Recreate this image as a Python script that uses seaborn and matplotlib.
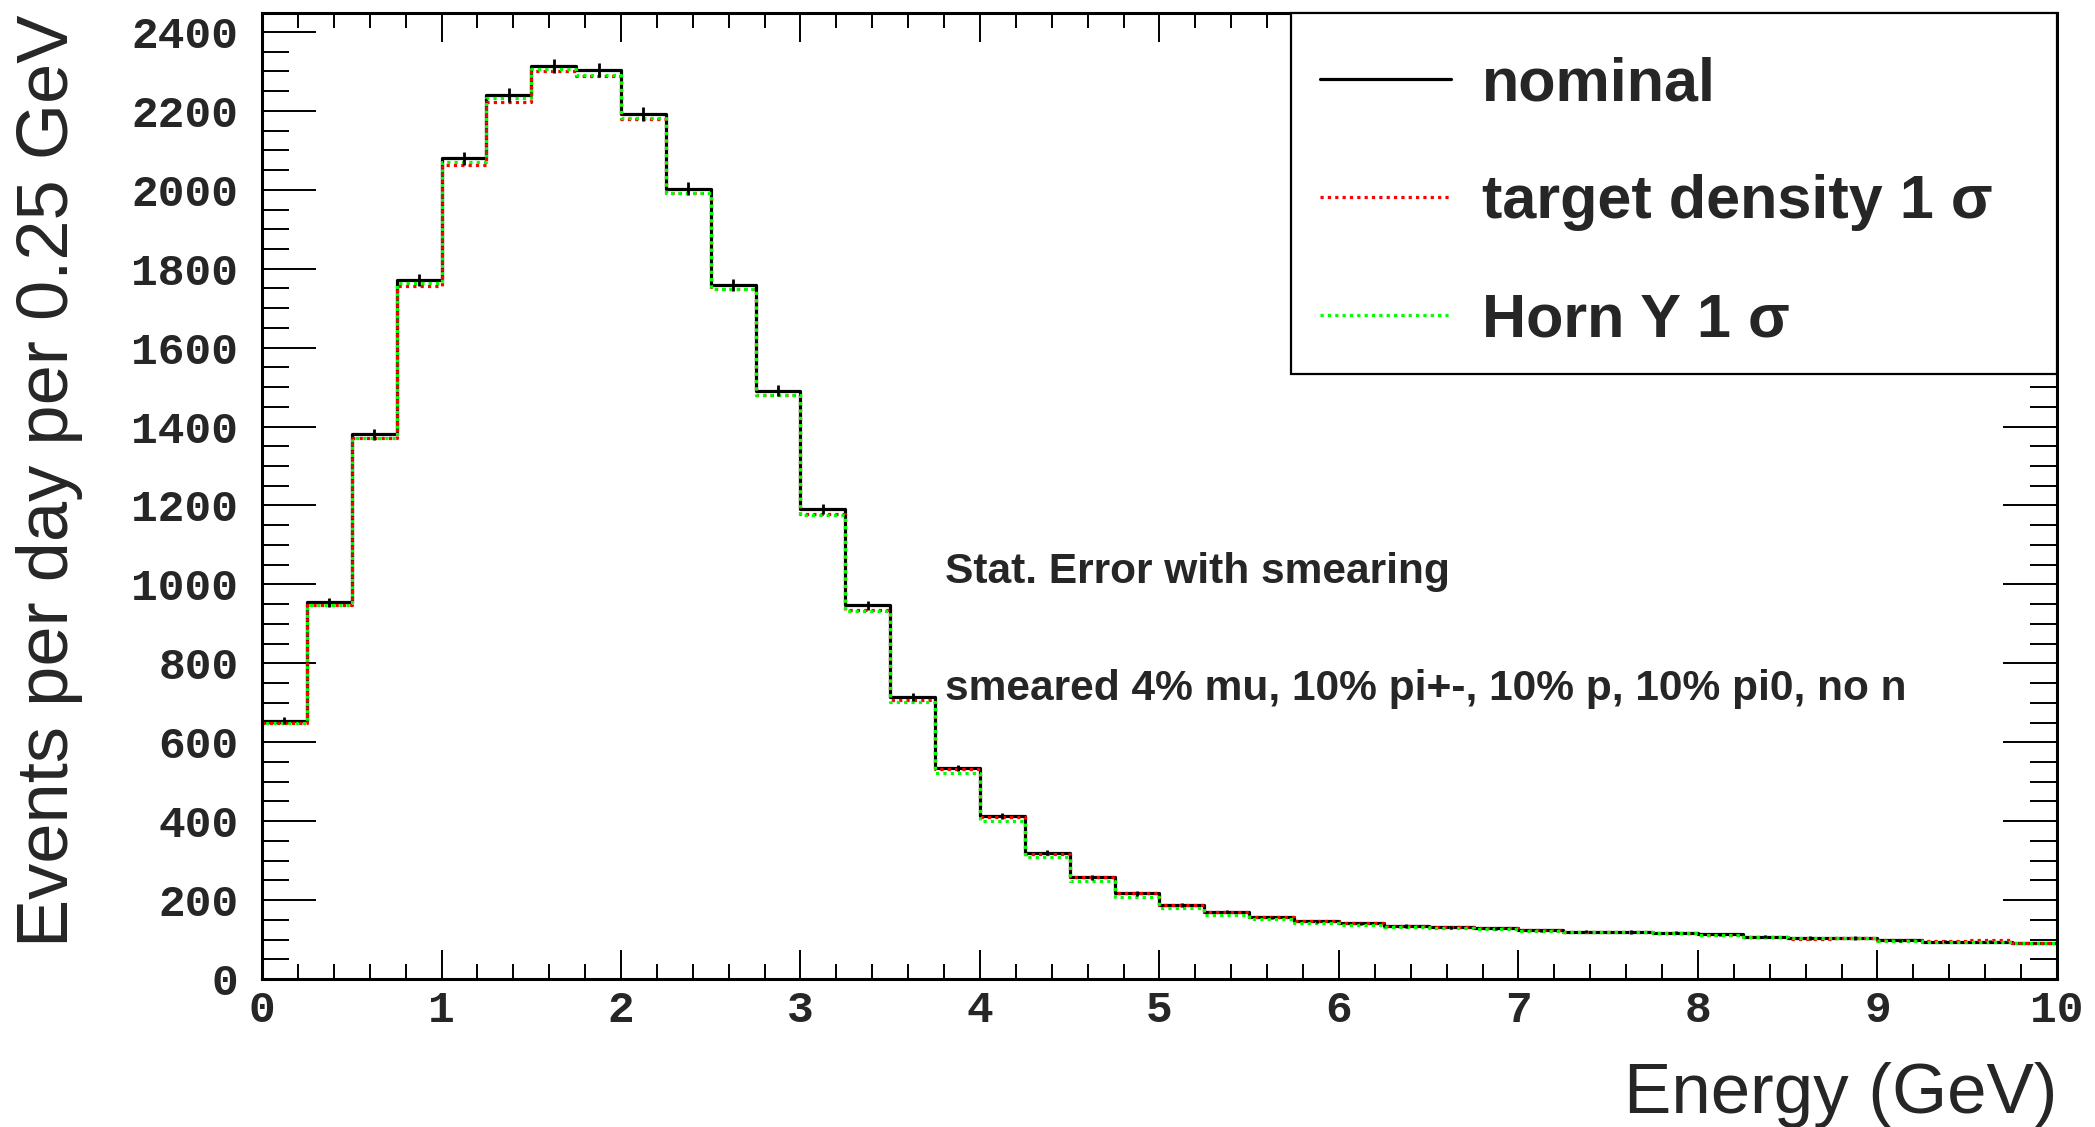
import numpy as np
import pandas as pd
import matplotlib
matplotlib.use("Agg")
import matplotlib.pyplot as plt
import seaborn as sns
from matplotlib.lines import Line2D
from matplotlib.patches import Rectangle
from matplotlib.ticker import MultipleLocator

# ---------------- data ----------------
bin_width = 0.25
n_bins = 40
nominal = [655, 955, 1380, 1772, 2080, 2240, 2313, 2304, 2192, 2003,
           1759, 1491, 1192, 947, 714, 535, 414, 320, 258, 217,
           188, 171, 156, 146, 141, 134, 131, 128, 123, 120,
           119, 117, 113, 107, 104, 104, 98, 95, 95, 91]
target_density = [650, 948, 1372, 1757, 2063, 2223, 2301, 2289, 2179, 1993,
                  1748, 1479, 1178, 935, 707, 532, 411, 317, 258, 217,
                  188, 171, 156, 146, 141, 134, 131, 128, 124, 120,
                  119, 116, 112, 106, 102, 104, 99, 96, 100, 92]
horn_y = [650, 948, 1372, 1764, 2071, 2232, 2305, 2292, 2181, 1993,
          1748, 1479, 1177, 932, 703, 523, 401, 308, 248, 207,
          180, 163, 152, 143, 138, 131, 129, 126, 122, 119,
          118, 116, 112, 107, 103, 103, 97, 94, 94, 90]
nominal_err = [9.5, 11.5, 14, 15.5, 17, 17.5, 18, 18, 17, 16.5,
               15.5, 14, 13, 11.5, 10, 8.5, 7.5, 6.5, 6, 5.5,
               5, 5, 4.5, 4.5, 4.5, 4.5, 4, 4, 4, 4,
               4, 4, 4, 4, 4, 4, 3.5, 3.5, 3.5, 3.5]
x_tick_values = [0, 1, 2, 3, 4, 5, 6, 7, 8, 9, 10]
y_tick_values = [0, 200, 400, 600, 800, 1000, 1200, 1400, 1600, 1800, 2000, 2200, 2400]
series_labels = ["nominal", "target density 1 \u03c3", "Horn Y 1 \u03c3"]
note_lines = ["Stat. Error with smearing",
              "smeared 4% mu, 10% pi+-, 10% p, 10% pi0, no n"]
x_title = "Energy (GeV)"
y_title = "Events per day per 0.25 GeV"

centers = (np.arange(n_bins) + 0.5) * bin_width
df = pd.DataFrame({"energy": centers, "nominal": nominal,
                   "target": target_density, "horn": horn_y})

# ---------------- style ----------------
sns.set_style("ticks")
plt.rcParams["font.family"] = ["Liberation Sans", "DejaVu Sans"]

fig = plt.figure(figsize=(20.95, 11.27), dpi=100)
ax = fig.add_axes([0.12506, 0.13132, 0.85680, 0.85714])

LW = 2.3
hist_kw = dict(data=df, x="energy", binwidth=bin_width,
               binrange=(0, n_bins * bin_width), element="step", fill=False,
               linewidth=LW, ax=ax)
sns.histplot(weights="nominal", color="black", **hist_kw)
sns.histplot(weights="target", color="#ff0000",
             linestyle=(0, (1, 1.3)), **hist_kw)
sns.histplot(weights="horn", color="#00ff00",
             linestyle=(1.15, (1, 1.3)), **hist_kw)
ax.errorbar(centers, nominal, yerr=nominal_err, fmt="none",
            ecolor="black", elinewidth=2.0, capsize=0)

ax.set_xlim(0, 10)
ax.set_ylim(0, 2448)
ax.set_xticks(x_tick_values)
ax.set_yticks(y_tick_values)
ax.xaxis.set_minor_locator(MultipleLocator(0.2))
ax.yaxis.set_minor_locator(MultipleLocator(50))

for s in ax.spines.values():
    s.set_linewidth(2.2)
    s.set_color("black")

ax.tick_params(axis="both", which="both", direction="in", top=True, right=True,
               color="black", width=1.4)
ax.tick_params(axis="y", which="major", length=39, pad=17)
ax.tick_params(axis="y", which="minor", length=19.5)
ax.tick_params(axis="x", which="major", length=21, pad=8)
ax.tick_params(axis="x", which="minor", length=10.5)

for lab in ax.get_xticklabels() + ax.get_yticklabels():
    lab.set_fontfamily("Liberation Mono")
    lab.set_fontweight("bold")
    lab.set_fontsize(32)

ax.set_xlabel(x_title, fontsize=51, ha="right")
ax.xaxis.set_label_coords(1.0, -0.0855)
ax.set_ylabel(y_title, fontsize=52, ha="center")
ax.yaxis.set_label_coords(-0.0997, 0.5155)

ax.text(0.3805, 0.421, note_lines[0], transform=ax.transAxes, ha="left",
        va="center", fontsize=30.6, fontweight="bold")
ax.text(0.3805, 0.300, note_lines[1], transform=ax.transAxes, ha="left",
        va="center", fontsize=30.6, fontweight="bold")

# legend frame (ROOT-style box touching the top-right corner of the frame)
ax.add_patch(Rectangle((0.5733, 0.6263), 0.4267, 0.3737, transform=ax.transAxes,
                       facecolor="white", edgecolor="black", linewidth=1.6,
                       zorder=4.5, clip_on=False))
handles = [Line2D([], [], color="black", lw=LW),
           Line2D([], [], color="#ff0000", lw=LW, linestyle=(0, (1, 1.3))),
           Line2D([], [], color="#00ff00", lw=LW, linestyle=(0, (1, 1.3)))]
leg = ax.legend(handles, series_labels, loc="upper left",
                bbox_to_anchor=(0.5894, 0.9551), borderaxespad=0,
                frameon=False,
                prop={"family": "Liberation Sans", "weight": "bold", "size": 44},
                handlelength=2.15, handletextpad=0.5, labelspacing=1.0,
                borderpad=0.0)
leg.set_zorder(5)

fig.savefig("out.png", dpi=100)
